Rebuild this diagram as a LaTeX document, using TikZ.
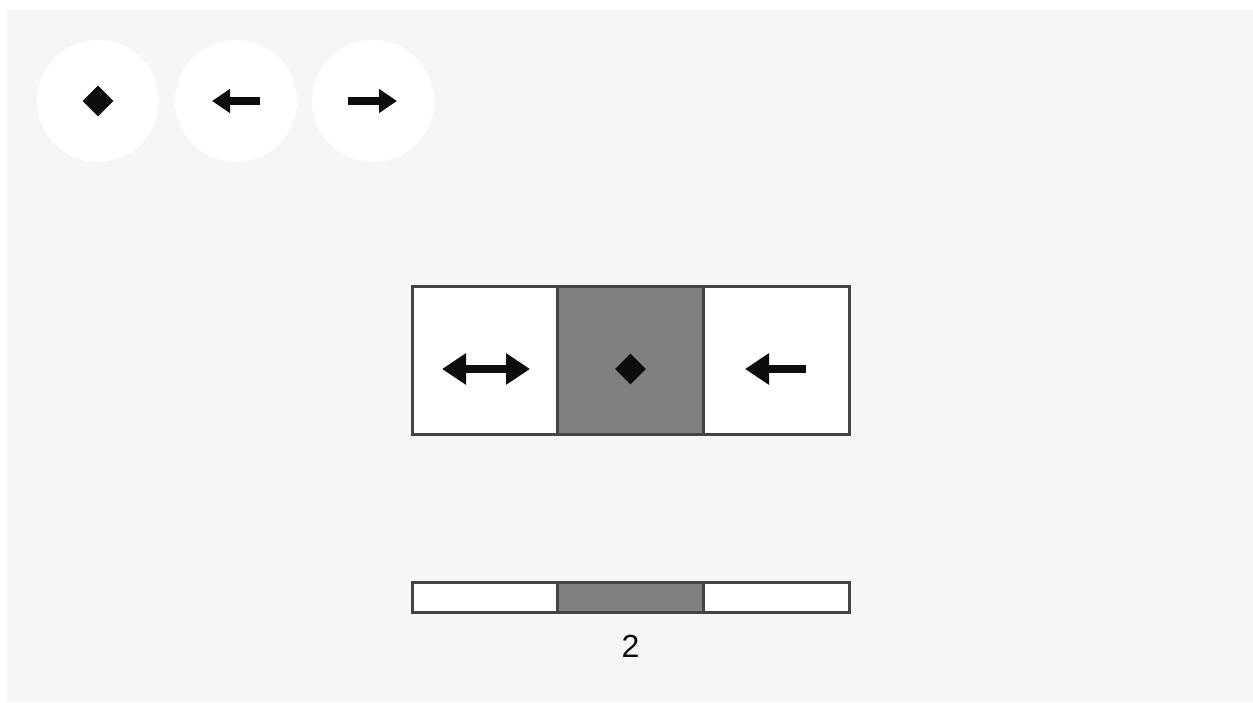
\documentclass[tikz,border=0pt]{standalone}
\usepackage{fontspec}
\setsansfont{Liberation Sans}
\usetikzlibrary{arrows.meta,positioning,shapes.geometric}
\definecolor{bgpanel}{HTML}{F6F6F6}
\definecolor{cellline}{HTML}{444444}
\definecolor{cellgray}{HTML}{808080}
\definecolor{glyph}{HTML}{0D0D0D}
\tikzset{
  disc/.style={circle,fill=white,minimum size=61pt,inner sep=0pt},
  cell/.style={rectangle,draw=cellline,line width=1.5pt,outer sep=0pt,
               minimum width=72.85pt,minimum height=74pt,inner sep=0pt,fill=white},
  bar/.style={cell,minimum height=15pt},
  gem/.style={diamond,fill=glyph,inner sep=0pt,minimum size=15.5pt},
  smallarr/.style={-{Triangle[length=9pt,width=11.5pt]},line width=3.75pt,draw=glyph},
  bigarr/.style={-{Triangle[length=12pt,width=15pt]},line width=4pt,draw=glyph},
  bigdbl/.style={{Triangle[length=12pt,width=15pt]}-{Triangle[length=12pt,width=15pt]},
                 line width=4pt,draw=glyph},
}

\begin{document}
\begin{tikzpicture}[x=0.5pt,y=-0.5pt]
\useasboundingbox (0,0) rectangle (1253,702);
\fill[bgpanel] (7,10) rectangle (1253,702);

% legend discs
\node[disc] (stay) at (98,101) {};
\node[disc] (goleft) at (236,101) {};
\node[disc] (goright) at (373,101) {};
\node[gem] (staygem) at (stay) {};
\coordinate (gl) at (goleft);
\coordinate (gr) at (goright);
\draw[smallarr] ([xshift=12pt]gl) -- ([xshift=-12pt]gl);
\draw[smallarr] ([xshift=-12.5pt]gr) -- ([xshift=12pt]gr);

% the three cells
\node[cell] (cellA) at (485,360) {};
\node[cell,fill=cellgray,right=0pt of cellA] (cellB) {};
\node[cell,right=0pt of cellB] (cellC) {};
\coordinate (ia) at (485,369);
\coordinate (ic) at (776,369);
\draw[bigdbl] ([xshift=-21.5pt]ia) -- ([xshift=22.5pt]ia);
\node[gem] (midgem) at (630.5,369) {};
\draw[bigarr] ([xshift=15pt]ic) -- ([xshift=-15.5pt]ic);

% strip below
\node[bar] (barA) at (485,597) {};
\node[bar,fill=cellgray,right=0pt of barA] (barB) {};
\node[bar,right=0pt of barB] (barC) {};
\node[font=\sffamily\fontsize{16}{18}\selectfont,text=glyph] (count) at (630.5,646) {2};
\end{tikzpicture}
\end{document}
